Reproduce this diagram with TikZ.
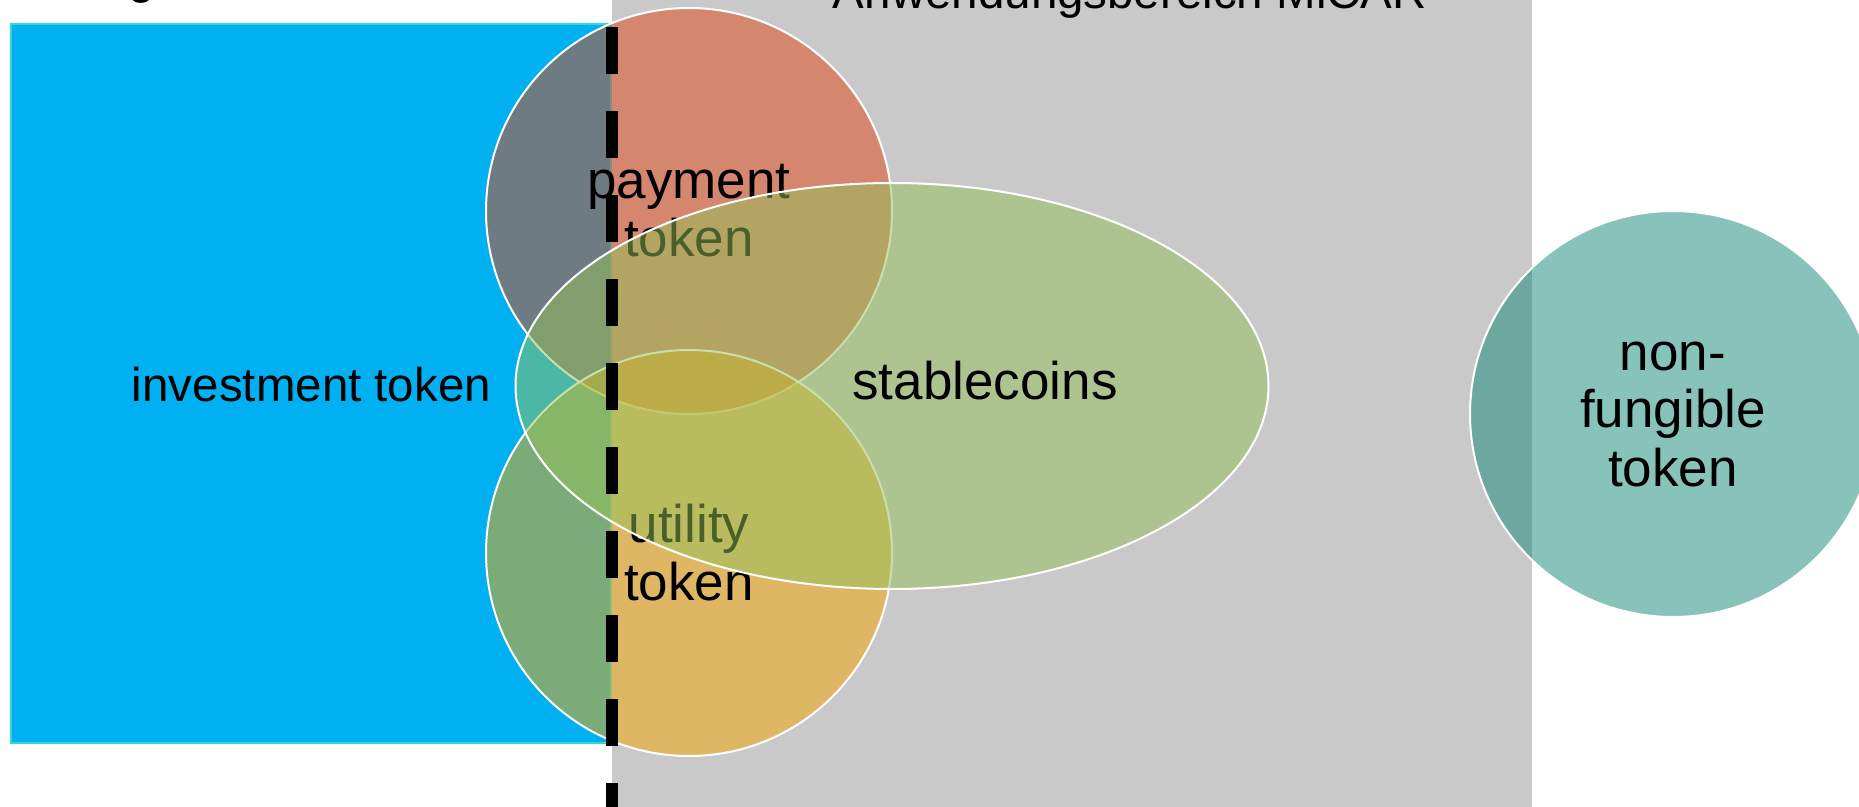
\documentclass[tikz,border=0pt]{standalone}
\usepackage{fontspec}
\setmainfont{Liberation Sans}
\usepackage{tikz}
\usetikzlibrary{shapes.geometric}

\definecolor{invblue}{HTML}{00B0F0}
\definecolor{invrim}{HTML}{30D8D8}
\definecolor{micagray}{HTML}{C9C9C9}
\definecolor{payred}{RGB}{223,71,21}
\definecolor{utilgold}{RGB}{245,167,1}
\definecolor{stablegreen}{RGB}{149,193,89}
\definecolor{nftteal}{RGB}{17,137,119}

\begin{document}
\begin{tikzpicture}[x=0.5pt,y=0.5pt]
\tikzstyle{every node}+=[inner sep=0pt]
\tikzstyle{venn}=[draw=white, line width=1pt, fill opacity=0.5, text opacity=1, align=center, font=\fontsize{26.5}{29}\selectfont]
\tikzstyle{tokencircle}=[venn, circle, minimum size=203pt]
\clip (0,0) rectangle (1859,-807);
\useasboundingbox (0,0) rectangle (1859,-807);
\fill [white] (0,0) rectangle (1859,-807);
\draw [invrim, fill=invblue, line width=1pt] (11,-24) rectangle (611,-743);
\fill [micagray] (612,0) rectangle (1532,-807);
\node [anchor=base west, font=\fontsize{23.75}{29}\selectfont] (mifid) at (-96,6) {Anwendungsbereich MiFID II};
\node [anchor=base, font=\fontsize{23.75}{29}\selectfont] (micar) at (1130,-9) {Anwendungsbereich MiCAR};
\node [anchor=base, font=\fontsize{23.75}{29}\selectfont] (invest) at (311.5,-402) {investment token};
\node [tokencircle, fill=payred] (payment) at (689,-211) {payment\\token};
\node [tokencircle, fill=utilgold] (utility) at (689,-553) {utility\\token};
\node [venn, ellipse, fill=stablegreen, minimum width=376.5pt, minimum height=203pt] (stable) at (892,-386) {};
\node [anchor=base, font=\fontsize{26.5}{29}\selectfont] (stabletext) at (985,-400) {stablecoins};
\node [tokencircle, fill=nftteal] (nft) at (1673,-414) {non-\\fungible\\token};
% boundary of MiCAR
\coordinate (cutTop) at (612,-27);
\coordinate (cutBot) at (612,-830);
\draw [black, line width=6pt, dash pattern=on 23.5pt off 18.5pt] (cutTop) -- (cutBot);
\end{tikzpicture}
\end{document}
